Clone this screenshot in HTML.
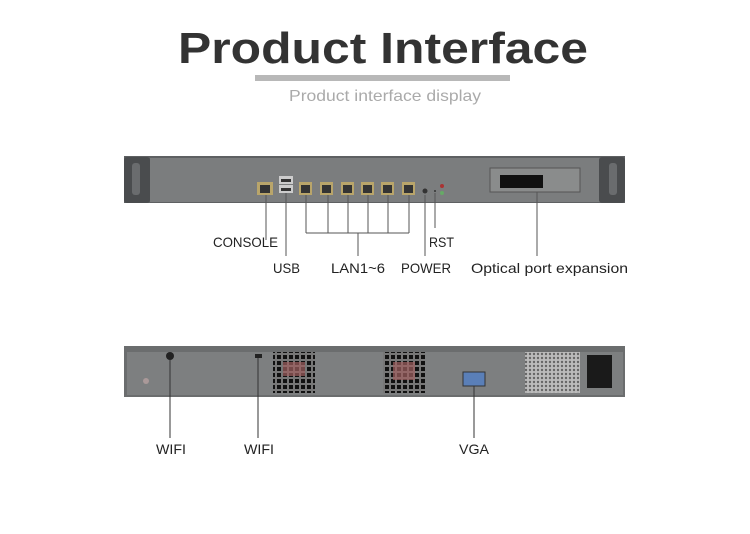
<!DOCTYPE html>
<html><head><meta charset="utf-8"><style>
html,body{margin:0;padding:0;background:#fff;width:750px;height:534px;overflow:hidden}
svg text{font-family:"Liberation Sans",sans-serif}
</style></head><body>
<svg width="750" height="534" viewBox="0 0 750 534" xmlns="http://www.w3.org/2000/svg">
<defs>
<pattern id="grill" width="6" height="6" patternUnits="userSpaceOnUse"><rect width="6" height="6" fill="#777"/><rect x="1" y="1" width="4" height="4" fill="#111"/></pattern>
<pattern id="hex" width="4" height="4" patternUnits="userSpaceOnUse"><rect width="4" height="4" fill="#bbb"/><circle cx="2" cy="2" r="1.2" fill="#666"/></pattern>
</defs>
<text x="178" y="63" font-size="44" font-weight="bold" fill="#333" textLength="410" lengthAdjust="spacingAndGlyphs">Product Interface</text>
<rect x="255" y="75" width="255" height="6" fill="#b8b8b8"/>
<text x="289" y="101" font-size="16" fill="#aaa" textLength="192" lengthAdjust="spacingAndGlyphs">Product interface display</text>

<!-- front panel -->
<rect x="124" y="156" width="501" height="47" fill="#5e6062"/>
<rect x="150" y="158" width="450" height="44" fill="#7b7d7e"/>
<rect x="124" y="157" width="26" height="46" rx="3" fill="#4a4c4e"/>
<rect x="599" y="157" width="26" height="46" rx="3" fill="#4a4c4e"/>
<rect x="132" y="163" width="8" height="32" rx="3" fill="#6a6c6e"/>
<rect x="609" y="163" width="8" height="32" rx="3" fill="#6a6c6e"/>
<rect x="257" y="182" width="16" height="13" fill="#b9a56a"/><rect x="260" y="185" width="10" height="8" fill="#333"/>
<rect x="279" y="176" width="14" height="8" fill="#ccc"/><rect x="279" y="185" width="14" height="8" fill="#ccc"/>
<rect x="281" y="179" width="10" height="3" fill="#333"/><rect x="281" y="188" width="10" height="3" fill="#333"/>
<g fill="#b9a56a">
<rect x="299" y="182" width="13" height="13"/><rect x="320" y="182" width="13" height="13"/><rect x="341" y="182" width="13" height="13"/>
<rect x="361" y="182" width="13" height="13"/><rect x="381" y="182" width="13" height="13"/><rect x="402" y="182" width="13" height="13"/></g>
<g fill="#333">
<rect x="301" y="185" width="9" height="8"/><rect x="322" y="185" width="9" height="8"/><rect x="343" y="185" width="9" height="8"/>
<rect x="363" y="185" width="9" height="8"/><rect x="383" y="185" width="9" height="8"/><rect x="404" y="185" width="9" height="8"/></g>
<circle cx="425" cy="191" r="2.5" fill="#333"/><circle cx="435" cy="191" r="1" fill="#333"/>
<circle cx="442" cy="186" r="2" fill="#a33"/><circle cx="442" cy="193" r="2" fill="#6a6"/>
<rect x="490" y="168" width="90" height="24" fill="#8a8c8c" stroke="#555"/>
<rect x="500" y="175" width="43" height="13" fill="#111"/>

<g stroke="#555" stroke-width="1" fill="none">
<line x1="266" y1="195" x2="266" y2="240"/>
<line x1="286" y1="193" x2="286" y2="256"/>
<line x1="306" y1="195" x2="306" y2="233"/><line x1="328" y1="195" x2="328" y2="233"/>
<line x1="348" y1="195" x2="348" y2="233"/><line x1="368" y1="195" x2="368" y2="233"/>
<line x1="388" y1="195" x2="388" y2="233"/><line x1="409" y1="195" x2="409" y2="233"/>
<line x1="306" y1="233" x2="409" y2="233"/><line x1="358" y1="233" x2="358" y2="256"/>
<line x1="425" y1="195" x2="425" y2="256"/>
<line x1="435" y1="193" x2="435" y2="228"/>
<line x1="537" y1="192" x2="537" y2="256"/>
</g>
<g font-size="14" fill="#222">
<text x="213" y="247" textLength="65" lengthAdjust="spacingAndGlyphs">CONSOLE</text>
<text x="429" y="247" textLength="25" lengthAdjust="spacingAndGlyphs">RST</text>
<text x="273" y="273" textLength="27" lengthAdjust="spacingAndGlyphs">USB</text>
<text x="331" y="273" textLength="54" lengthAdjust="spacingAndGlyphs">LAN1~6</text>
<text x="401" y="273" textLength="50" lengthAdjust="spacingAndGlyphs">POWER</text>
<text x="471" y="273" textLength="157" lengthAdjust="spacingAndGlyphs">Optical port expansion</text>
</g>

<!-- rear panel -->
<rect x="124" y="346" width="501" height="51" fill="#6b6d6e"/>
<rect x="127" y="352" width="496" height="43" fill="#7d7f80"/>
<circle cx="170" cy="356" r="4" fill="#222"/>
<circle cx="146" cy="381" r="3" fill="#a99"/>
<rect x="255" y="354" width="7" height="4" fill="#222"/>
<rect x="273" y="352" width="42" height="41" fill="url(#grill)"/>
<rect x="383" y="352" width="42" height="41" fill="url(#grill)"/>
<rect x="283" y="362" width="22" height="14" fill="#a06060" opacity="0.7"/>
<rect x="393" y="362" width="22" height="18" fill="#a06060" opacity="0.7"/>
<rect x="463" y="372" width="22" height="14" fill="#5a7fb8" stroke="#333"/>
<rect x="525" y="352" width="55" height="41" fill="url(#hex)"/>
<rect x="587" y="355" width="25" height="33" fill="#1a1a1a"/>
<g stroke="#333" stroke-width="1" fill="none">
<line x1="170" y1="360" x2="170" y2="438"/>
<line x1="258" y1="358" x2="258" y2="438"/>
<line x1="474" y1="386" x2="474" y2="438"/>
</g>
<g font-size="14" fill="#222">
<text x="156" y="454" textLength="30" lengthAdjust="spacingAndGlyphs">WIFI</text>
<text x="244" y="454" textLength="30" lengthAdjust="spacingAndGlyphs">WIFI</text>
<text x="459" y="454" textLength="30" lengthAdjust="spacingAndGlyphs">VGA</text>
</g>
</svg>
</body></html>
